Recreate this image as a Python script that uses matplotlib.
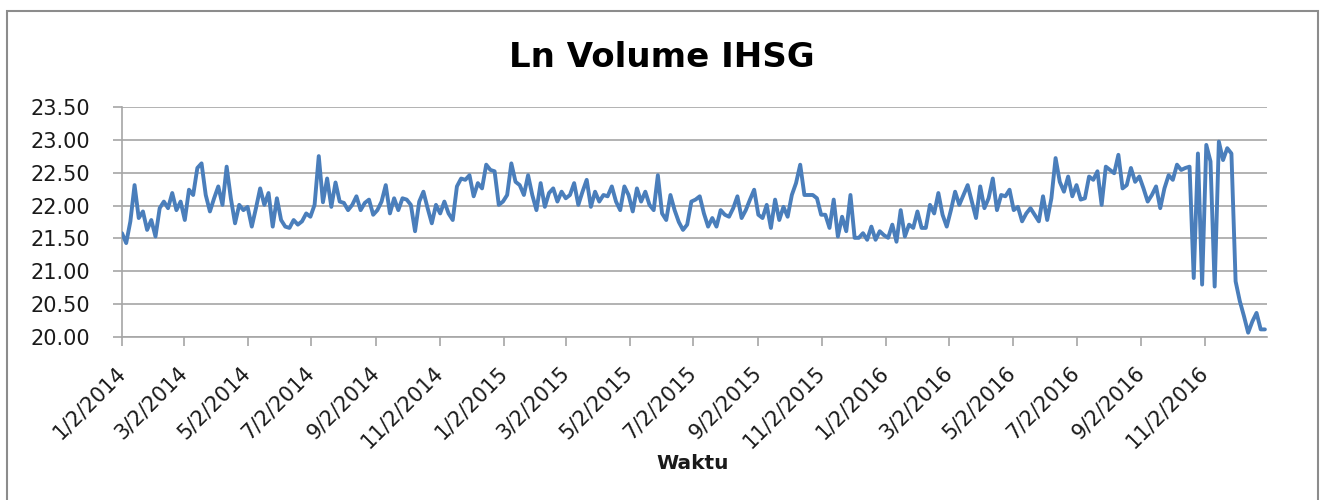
import matplotlib
matplotlib.use("Agg")
import matplotlib.pyplot as plt
import matplotlib.dates as mdates
from matplotlib.patches import Rectangle
from matplotlib.ticker import FuncFormatter, MultipleLocator
import numpy as np
import pandas as pd

# Ln Volume IHSG, sampled every 4 days starting 2014-01-02
start_date = "2014-01-02"
step = "4D"

seg_2014 = [21.58, 21.43, 21.76, 22.31, 21.81, 21.91, 21.63, 21.78, 21.53, 21.96,
            22.06, 21.96, 22.19, 21.93, 22.06, 21.78, 22.24, 22.16, 22.57, 22.64,
            22.16, 21.91, 22.11, 22.29, 22.01, 22.59, 22.11, 21.73, 22.01, 21.93,
            21.98, 21.68, 21.96, 22.26, 22.01, 22.19, 21.68, 22.11, 21.78, 21.68,
            21.66, 21.78, 21.71, 21.76, 21.88, 21.83, 22.01, 22.75, 22.05, 22.41,
            21.98, 22.35, 22.06, 22.04, 21.93, 22.01, 22.14, 21.93, 22.04, 22.09,
            21.86, 21.93, 22.06, 22.31, 21.88, 22.11, 21.93, 22.11, 22.09, 22.01,
            21.61, 22.06, 22.21, 21.96, 21.73, 22.01, 21.88, 22.06, 21.88, 21.78,
            22.29, 22.41, 22.39, 22.46, 22.14, 22.34, 22.26, 22.62, 22.54, 22.52,
            22.01, 22.06]
seg_2015 = [22.16, 22.64, 22.36, 22.31, 22.16, 22.46, 22.16, 21.93, 22.34, 21.98,
            22.19, 22.26, 22.06, 22.21, 22.11, 22.16, 22.34, 22.01, 22.21, 22.39,
            21.98, 22.21, 22.06, 22.16, 22.14, 22.29, 22.06, 21.93, 22.29, 22.16,
            21.91, 22.26, 22.06, 22.21, 22.01, 21.93, 22.46, 21.88, 21.78, 22.16,
            21.93, 21.75, 21.63, 21.71, 22.06, 22.09, 22.14, 21.88, 21.68, 21.81,
            21.68, 21.93, 21.86, 21.83, 21.96, 22.14, 21.81, 21.93, 22.09, 22.24,
            21.86, 21.81, 22.01, 21.66, 22.09, 21.78, 21.98, 21.83, 22.16, 22.34,
            22.62, 22.16, 22.16, 22.16, 22.11, 21.86, 21.86, 21.66, 22.09, 21.53,
            21.83, 21.61, 22.16, 21.51, 21.51, 21.58, 21.48, 21.68, 21.48, 21.61,
            21.55]
seg_2016 = [21.51, 21.71, 21.45, 21.93, 21.53, 21.71, 21.66, 21.91, 21.66, 21.66,
            22.01, 21.88, 22.19, 21.86, 21.68, 21.93, 22.21, 22.01, 22.16, 22.31,
            22.06, 21.81, 22.29, 21.96, 22.11, 22.41, 21.93, 22.16, 22.14, 22.24,
            21.93, 21.98, 21.76, 21.88, 21.96, 21.86, 21.76, 22.14, 21.78, 22.11,
            22.72, 22.36, 22.21, 22.44, 22.14, 22.31, 22.09, 22.11, 22.44, 22.39,
            22.52, 22.01, 22.59, 22.54, 22.49, 22.77, 22.26, 22.31, 22.57, 22.36,
            22.44, 22.26, 22.06, 22.16, 22.29, 21.96, 22.26, 22.46, 22.39, 22.62,
            22.54, 22.57, 22.59, 20.90, 22.79, 20.80, 22.92, 22.67, 20.77, 22.97,
            22.69, 22.87, 22.79, 20.85, 20.55, 20.32, 20.07, 20.24, 20.37, 20.12,
            20.12]

title = "Ln Volume IHSG"
xlabel = "Waktu"
y_min, y_max, y_step = 20.0, 23.5, 0.5
x_start, x_end = "2014-01-02", "2016-12-31"
tick_months = [1, 3, 5, 7, 9, 11]

values = seg_2014 + seg_2015 + seg_2016
dates = pd.date_range(start_date, periods=len(values), freq=step)

W, H = 1325, 500
fig = plt.figure(figsize=(W / 100, H / 100), dpi=100)
ax = fig.add_axes([122 / W, 1 - 337.3 / H, (1267 - 122) / W, (337.3 - 106.7) / H])

ax.plot(dates, values, color="#4a7ebb", lw=2.8, solid_joinstyle="round",
        solid_capstyle="round", zorder=3)

ax.set_ylim(y_min, y_max)
ax.yaxis.set_major_locator(MultipleLocator(y_step))
ax.yaxis.set_major_formatter(FuncFormatter(lambda v, p: f"{v:.2f}"))
ax.set_xlim(pd.Timestamp(x_start), pd.Timestamp(x_end))
ax.xaxis.set_major_locator(mdates.MonthLocator(bymonth=tick_months, bymonthday=2))
ax.xaxis.set_major_formatter(FuncFormatter(
    lambda v, p: (lambda d: f"{d.month}/{d.day}/{d.year}")(mdates.num2date(v))))

grid_c = "#a6a6a6"
ax.grid(axis="y", color=grid_c, lw=1.2, zorder=0)
for s in ["top", "right"]:
    ax.spines[s].set_visible(False)
for s in ["left", "bottom"]:
    ax.spines[s].set_color(grid_c)
    ax.spines[s].set_linewidth(1.2)

ax.tick_params(axis="both", direction="out", length=6.5, width=1.2, color=grid_c,
               labelsize=15, labelcolor="#1a1a1a", pad=16.5)
plt.setp(ax.get_xticklabels(), rotation=45, ha="right", va="center",
         rotation_mode="anchor")

fig.text(661.5 / W, 1 - 66.7 / H, title, ha="center", va="baseline",
         fontsize=24.5, fontweight="bold", color="#000000")
fig.text(692.5 / W, 1 - 469.3 / H, xlabel, ha="center", va="baseline",
         fontsize=14.5, fontweight="bold", color="#1a1a1a")

fig.patches.append(Rectangle((7 / W, -0.02), (1317.7 - 7) / W, (H - 11) / H + 0.02,
                             transform=fig.transFigure, fill=False,
                             edgecolor="#8c8c8c", lw=1.5, clip_on=False))

fig.savefig("out.png", dpi=100)
